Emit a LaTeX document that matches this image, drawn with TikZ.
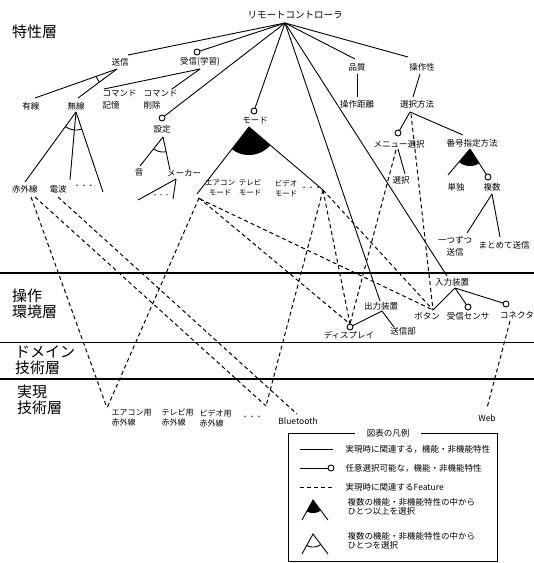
\documentclass[tikz,border=0pt]{standalone}
\usepackage{fontspec}
\setmainfont{Noto Sans CJK JP}
\newcommand{\tsz}[2]{\fontsize{#1}{#2}\selectfont}
\begin{document}
\begin{tikzpicture}[x=1pt,y=-1pt,
  tx/.style={inner sep=0.5pt, font=\tsz{8.5}{10}},
  lay/.style={inner sep=0pt, anchor=west, align=left, font=\tsz{15}{16.5}},
  opt/.style={circle, draw, fill=white, inner sep=0pt, minimum size=6pt, line width=0.9pt},
  ln/.style={line width=0.9pt},
  dl/.style={line width=1pt, dash pattern=on 4pt off 3pt},
  layer/.style={line width=1.4pt}]
\useasboundingbox (0,0) rectangle (534,563);

% ---------- layer lines and labels ----------
\draw[layer] (0,273) -- (534,273);
\draw[layer] (0,342.5) -- (534,342.5);
\draw[layer] (0,379) -- (534,379);
\node[lay] (L1) at (12,32) {特性層};
\node[lay] (L2) at (12,304) {操作\\環境層};
\node[lay] (L3) at (15,360) {ドメイン\\技術層};
\node[lay] (L4) at (17,400) {実現\\技術層};

% ---------- feature nodes ----------
\node[tx, font=\tsz{9.5}{10}] (root) at (295,15) {リモートコントローラ};
\coordinate (rp) at (285,23);

\node[tx] (soushin) at (120,62) {送信};
\coordinate (soushinT) at (128,55);
\coordinate (soushinB) at (117,69);

\node[tx] (jushin) at (200,62) {受信(学習)};
\coordinate (jushinB) at (200,69);

\node[tx] (settei) at (162,129) {設定};
\coordinate (setteiB) at (163,137);

\node[tx] (mode) at (255,120) {モード};
\coordinate (modeB) at (249,127);

\node[tx] (hinshitsu) at (357,67) {品質};
\coordinate (hinshitsuT) at (355,59);
\node[tx] (sousasei) at (422,67) {操作性};
\coordinate (sousaseiT) at (408,57);
\node[tx] (kyori) at (357,104) {操作距離};
\node[tx] (sentaku) at (417,104) {選択方法};
\coordinate (sentakuB) at (410,112);

\node[tx] (yusen) at (31,106) {有線};
\node[tx] (musen) at (76,106) {無線};
\coordinate (musenB) at (76,112);
\node[tx, align=left, anchor=west, font=\tsz{8.5}{12}] (kioku) at (102,100) {コマンド\\記憶};
\node[tx, align=left, anchor=west, font=\tsz{8.5}{12}] (sakujo) at (143,100) {コマンド\\削除};

\node[tx] (sekigai) at (25,189) {赤外線};
\node[tx] (denpa) at (58,189) {電波};
\node[tx, font=\tsz{7}{8}] (musenDots) at (84,187) {・・・};
\node[tx] (oto) at (139,172) {音};
\node[tx] (maker) at (184,173) {メーカー};
\coordinate (makerB) at (176,179);
\node[tx, font=\tsz{6}{7}] (makerDots) at (161,196) {・・・};

\node[tx, align=center, font=\tsz{7.5}{10}] (aircon) at (220,188) {エアコン\\モード};
\node[tx, align=center, font=\tsz{7.5}{10}] (tv) at (250,188) {テレビ\\モード};
\node[tx, align=center, font=\tsz{7.5}{10}] (video) at (286,188) {ビデオ\\モード};
\node[tx, font=\tsz{7}{8}] (modeDots) at (311,189) {・・・};
\coordinate (modeL) at (197,194);
\coordinate (modeR) at (323,190);

\node[tx] (menu) at (399,144) {メニュー選択};
\node[tx] (sel) at (401,180) {選択};
\node[tx] (bango) at (472,143) {番号指定方法};
\coordinate (bangoB) at (470,149);
\node[tx] (tandoku) at (456,187) {単独};
\node[tx] (fukusu) at (492,187) {複数};
\coordinate (fukusuB) at (492,194);
\node[tx, align=center, font=\tsz{8.5}{12}] (hitotsu) at (455,246) {一つずつ\\送信};
\node[tx] (matomete) at (504,245) {まとめて送信};

% ---------- environment layer ----------
\node[tx] (nyuryoku) at (452,282) {入力装置};
\coordinate (nyuryokuB) at (455,288);
\node[tx] (shutsuryoku) at (381,306) {出力装置};
\coordinate (shutsuryokuB) at (382,311);
\node[tx] (disp) at (349,335) {ディスプレイ};
\node[tx] (soushinbu) at (403,331) {送信部};
\coordinate (button) at (433,310);
\node[tx] (buttonT) at (427,316) {ボタン};
\node[tx] (sensor) at (468,316) {受信センサ};
\node[tx] (conn) at (517,315) {コネクタ};

% ---------- implementation layer ----------
\node[tx, align=left, anchor=west, font=\tsz{8}{10}] (acIR) at (111,418) {エアコン用\\赤外線};
\node[tx, align=left, anchor=west, font=\tsz{8}{10}] (tvIR) at (161,418) {テレビ用\\赤外線};
\node[tx, align=left, anchor=west, font=\tsz{8}{10}] (videoIR) at (199,418) {ビデオ用\\赤外線};
\node[tx, font=\tsz{7}{8}] (irDots) at (252,418) {・・・};
\node[tx] (bt) at (298,421) {Bluetooth};
\node[tx] (web) at (487,418) {Web};
\coordinate (acIRT) at (107,408);
\coordinate (irDotsT) at (266,406);
\coordinate (btT) at (297,414);
\coordinate (webT) at (487,408);

% ---------- solid connectors ----------
\draw[ln] (rp) -- (soushinT);
\draw[ln] (rp) -- (197,52);
\draw[ln] (rp) -- (162,118);
\draw[ln] (rp) -- (254,111);
\draw[ln] (rp) -- (hinshitsuT);
\draw[ln] (rp) -- (sousaseiT);
\draw[ln] (rp) -- (380,301);
\draw[ln] (rp) -- (447,276);

\draw[ln] (soushinB) -- (35,98);
\draw[ln] (soushinB) -- (78,98);
\draw[ln] plot[domain=143.4:160.5, samples=20] ({117+22*cos(\x)},{69+22*sin(\x)});

\draw[ln] (jushinB) -- (104,89);
\draw[ln] (jushinB) -- (172,89);

\draw[ln] (musenB) -- (25,182);
\draw[ln] (musenB) -- (70,180);
\draw[ln] (musenB) -- (103,192);
\draw[ln] plot[domain=71.4:126.1, samples=24] ({76+18*cos(\x)},{112+18*sin(\x)});

\draw[ln] (setteiB) -- (140,166);
\draw[ln] (setteiB) -- (170,170);
\draw[ln] plot[domain=78:128.4, samples=20] ({163+15*cos(\x)},{137+15*sin(\x)});

\draw[ln] (makerB) -- (138,200);
\draw[ln] (makerB) -- (173,199);

\draw[ln] (modeB) -- (modeL);
\draw[ln] (modeB) -- (modeR);
\fill (modeB) -- plot[domain=40.4:127.8, samples=30] ({249+28*cos(\x)},{127+28*sin(\x)}) -- cycle;

\draw[ln] (357,74) -- (357,97);
\draw[ln] (420,74) -- (413,97);
\draw[ln] (sentakuB) -- (398,133);
\draw[ln] (sentakuB) -- (463,135);
\draw[ln] (398,149) -- (405,174);

\draw[ln] (bangoB) -- (448,175);
\draw[ln] (bangoB) -- (488,177);
\fill (bangoB) -- plot[domain=57.3:130.2, samples=24] ({470+17*cos(\x)},{149+17*sin(\x)}) -- cycle;
\draw[ln] (fukusuB) -- (467,233);
\draw[ln] (fukusuB) -- (500,237);

\draw[ln] (nyuryokuB) -- (button);
\draw[ln] (nyuryokuB) -- (468,307);
\draw[ln] (nyuryokuB) -- (506,304);
\draw[ln] (shutsuryokuB) -- (350,327);
\draw[ln] (shutsuryokuB) -- (394,327);

% ---------- dashed connectors ----------
\draw[dl] (31,197) -- (acIRT);
\draw[dl] (35,197) -- (irDotsT);
\draw[dl] (58,197) -- (btT);
\draw[dl] (199,198) -- (acIRT);
\draw[dl] (199,198) -- (350,324);
\draw[dl] (200,199) -- (button);
\draw[dl] (modeR) -- (irDotsT);
\draw[dl] (modeR) -- (350,324);
\draw[dl] (modeR) -- (button);
\draw[dl] (396,150) -- (350,324);
\draw[dl] (411,114) -- (button);
\draw[dl] (510,321) -- (webT);

% ---------- optional circles ----------
\node[opt] (jushinO) at (197,52) {};
\node[opt] (setteiO) at (162,118) {};
\node[opt] (modeO) at (254,111) {};
\node[opt] (menuO) at (398,133) {};
\node[opt] (fukusuO) at (488,177) {};
\node[opt] (dispO) at (350,327) {};
\node[opt] (sensorO) at (468,307) {};
\node[opt] (connO) at (506,304) {};

% ---------- legend ----------
\draw[line width=1pt] (288,433) rectangle (497,561.5);
\node[tx, fill=white, inner xsep=12pt, inner ysep=2pt] (legT) at (388,433) {図表の凡例};
\draw[ln] (300,449) -- (333,449);
\node[tx, anchor=west] (leg1) at (345,449) {実現時に関連する，機能・非機能特性};
\draw[ln] (300,468) -- (328,468);
\node[opt] (legO) at (331,468) {};
\node[tx, anchor=west] (leg2) at (345,468) {任意選択可能な，機能・非機能特性};
\draw[dl] (300,487) -- (335,487);
\node[tx, anchor=west] (leg3) at (345,487) {実現時に関連するFeature};
\draw[ln] (302,520) -- (313,500) -- (328,520);
\fill (313,500) -- plot[domain=53.1:118.8, samples=20] ({313+13*cos(\x)},{500+13*sin(\x)}) -- cycle;
\node[tx, anchor=west, align=left, font=\tsz{8.5}{9}] (leg4) at (347,507) {複数の機能・非機能特性の中から\\ひとつ以上を選択};
\draw[ln] (302,554) -- (313,534) -- (328,554);
\draw[ln] plot[domain=53.1:118.8, samples=20] ({313+13*cos(\x)},{534+13*sin(\x)});
\node[tx, anchor=west, align=left, font=\tsz{8.5}{9}] (leg5) at (347,541) {複数の機能・非機能特性の中から\\ひとつを選択};
\end{tikzpicture}
\end{document}
